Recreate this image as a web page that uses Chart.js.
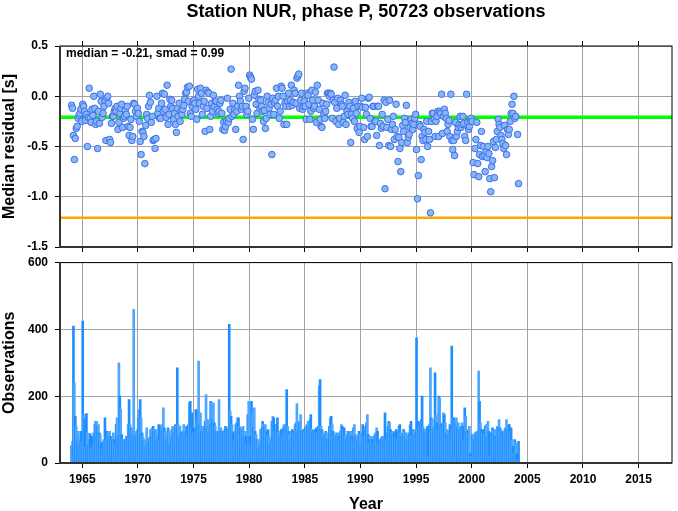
<!DOCTYPE html>
<html>
<head>
<meta charset="utf-8">
<script src="https://cdn.jsdelivr.net/npm/chart.js@4.4.0/dist/chart.umd.min.js"></script>
<style>
  html, body { margin: 0; padding: 0; background: #fff; }
  #wrap { position: relative; width: 678px; height: 511px; }
  canvas { position: absolute; left: 0; }
</style>
</head>
<body>
<div id="wrap">
  <canvas id="residualChart" width="678" height="255" style="top:0"></canvas>
  <canvas id="countChart" width="678" height="256" style="top:255px"></canvas>
</div>
<script>
// monthly values, one row per year, first row = 1964
const startYear = 1964;
const residuals = [
  -0.09,-0.12,-0.39,-0.63,-0.42,-0.32,-0.30,-0.22,-0.19,-0.17,-0.13,-0.25,
  -0.08,-0.10,-0.15,-0.24,-0.18,-0.50,-0.21, 0.08,-0.22,-0.26,-0.13,-0.19,
   0.00,-0.12,-0.28,-0.25,-0.52,-0.15,-0.27, 0.02,-0.05,-0.21,-0.17,-0.10,
  -0.04,-0.44,-0.02, 0.00,-0.07,-0.43,-0.46,-0.27,-0.20,-0.20,-0.15,-0.12,
  -0.15,-0.10,-0.33,-0.26,-0.17,-0.12,-0.08,-0.31,-0.22,-0.20,-0.14,-0.18,
  -0.10,-0.30,-0.39,-0.31,-0.23,-0.44,-0.40,-0.07,-0.08,-0.15,-0.20,-0.12,
  -0.17,-0.25,-0.45,-0.58,-0.35,-0.36,-0.40,-0.67,-0.29,-0.18,-0.22,-0.10,
   0.01,-0.06,-0.26,-0.20,-0.44,-0.43,-0.52,-0.42, 0.00,-0.17,-0.12,-0.22,
  -0.22,-0.07, 0.03,-0.15, 0.02,-0.13,-0.21, 0.11,-0.28,-0.18,-0.03,-0.10,
  -0.04,-0.12,-0.23,-0.17,-0.28,-0.36,-0.12,-0.20,-0.07,-0.25,-0.15,-0.18,
  -0.13,-0.09,-0.03, 0.03, 0.04, 0.09,-0.05, 0.10,-0.17,-0.20,-0.10,-0.06,
  -0.04,-0.07,-0.13,-0.23, 0.07, 0.00,-0.07, 0.08, 0.03,-0.18,-0.10,-0.05,
  -0.35, 0.06,-0.12, 0.04, 0.03,-0.33,-0.20,-0.07,-0.15, 0.01,-0.10,-0.05,
  -0.05,-0.13,-0.17,-0.15,-0.07,-0.04,-0.17,-0.33,-0.26,-0.34,-0.30,-0.25,
  -0.02,-0.26,-0.22,-0.13, 0.27,-0.20,-0.07,-0.18,-0.13,-0.33,-0.15,-0.10,
   0.11, 0.00,-0.05,-0.13,-0.10,-0.43, 0.05, 0.08,-0.10,-0.18,-0.15,-0.02,
   0.21, 0.19, 0.17,-0.23,-0.33, 0.01, 0.05,-0.08,-0.17, 0.06,-0.03,-0.12,
  -0.04,-0.10,-0.15,-0.25,-0.14,-0.32,-0.22, 0.00,-0.06,-0.12,-0.18,-0.08,
  -0.58,-0.02,-0.18,-0.07,-0.04, 0.08,-0.10, 0.00,-0.22,-0.15, 0.10, 0.08,
   0.00,-0.28,-0.07,-0.10,-0.28,-0.05, 0.03,-0.10,-0.04, 0.11,-0.09,-0.06,
   0.06, 0.03,-0.07, 0.18, 0.20, 0.22,-0.12,-0.04, 0.03,-0.13,-0.10,-0.05,
  -0.10,-0.23, 0.03, 0.01,-0.08,-0.23,-0.15, 0.06,-0.04,-0.12,-0.10, 0.04,
  -0.26, 0.11,-0.04,-0.13,-0.23,-0.30,-0.31,-0.07,-0.18,-0.22,-0.15,-0.08,
   0.03, 0.03, 0.00, 0.03, 0.02,-0.22,-0.04, 0.29,-0.06,-0.25,-0.12,-0.02,
  -0.28,-0.22,-0.04,-0.08,-0.10,-0.26,-0.20, 0.01,-0.28,-0.15,-0.18,-0.06,
  -0.10,-0.46,-0.18,-0.22,-0.12,-0.25,-0.05,-0.17,-0.32,-0.10,-0.36,-0.30,
  -0.10,-0.02,-0.11,-0.31,-0.43,-0.11,-0.18,-0.40,-0.02,-0.01,-0.22,-0.30,
  -0.30,-0.10,-0.10,-0.25,-0.25,-0.39,-0.10,-0.10,-0.49,-0.27,-0.32,-0.18,
  -0.30,-0.04,-0.92,-0.06,-0.31,-0.23,-0.49,-0.04,-0.50,-0.33,-0.28,-0.20,
  -0.43,-0.33,-0.08,-0.40,-0.65,-0.41,-0.52,-0.75,-0.46,-0.29,-0.35,-0.22,
  -0.26,-0.09,-0.46,-0.41,-0.38,-0.31,-0.23,-0.27,-0.33,-0.28,-0.22,-0.18,
  -0.53,-1.02,-0.79,-0.28,-0.30,-0.63,-0.40,-0.44,-0.33,-0.36,-0.43,-0.25,
  -0.50,-0.35,-0.43,-1.16,-0.25,-0.17,-0.17,-0.23,-0.40,-0.25,-0.20,-0.15,
  -0.40,-0.15,-0.17, 0.02,-0.37,-0.20,-0.13,-0.17,-0.22,-0.35,-0.28,-0.24,
  -0.40, 0.02,-0.44,-0.53,-0.44,-0.59,-0.26,-0.40,-0.35,-0.31,-0.28,-0.20,
  -0.31,-0.28,-0.20,-0.27,-0.40,-0.44, 0.02,-0.26,-0.33,-0.30,-0.25,-0.22,
  -0.25,-0.66,-0.78,-0.52,-0.43,-0.26,-0.67,-0.80,-0.58,-0.49,-0.35,-0.60,
  -0.50,-0.59,-0.75,-0.55,-0.61,-0.50,-0.57,-0.82,-0.95,-0.70,-0.64,-0.45,
  -0.81,-0.51,-0.43,-0.35,-0.23,-0.28,-0.31,-0.39,-0.43,-0.47,-0.52,-0.29,
  -0.49,-0.58,-0.33,-0.38,-0.33,-0.25,-0.17,-0.08,-0.17, 0.00,-0.22,-0.20,
   null,-0.38,-0.87
];
const counts = [
   52, 65,410,240,140,110, 70, 95, 60, 70, 95, 65,
  425,145,130, 50,148, 90, 55, 70, 88, 45, 80, 50,
   90,115,125,125,110,115, 90, 85, 60, 40, 65, 70,
  135, 70, 95, 90, 80, 95, 80, 70, 70, 90, 70, 55,
  115,135, 80,300,200,160, 85, 70, 70, 70, 70, 80,
   80,115,190,115,105,100, 85,460, 82, 95, 80,100,
  135,160,190,135, 90, 80, 65, 70, 50,105, 60, 70,
   75,100, 80,105,110,100, 95,100, 70, 80,115, 70,
  110,115, 95,165,105, 95, 70, 85,105, 95, 60, 80,
  100,110, 90,105,115,110,285,115, 80,110, 90, 85,
   95,115, 90, 95,110, 85,115,180,185,105,150, 90,
  105, 90,160,135,160,305,115,150, 95,110, 95,110,
  125,205,110,130, 95,115,185,180,130,180,120,110,
   95, 95, 95,190, 95,105, 95, 90, 95,100,110, 95,
  100,105,415,155,140,115, 90, 65, 95,115,120,135,
  135,110,105,105,100,110, 85, 95, 80, 55,145,185,
   80, 55,185,145,110,165, 95, 85, 70, 70, 45, 60,
  100,105,125,115,110,115, 95, 85,100, 80, 60, 70,
  125,140,135, 95,115,115,135, 90, 80, 95,100, 85,
  105,115,110,115,220,110, 95, 85, 65, 95,100, 90,
   95,115,120,178, 95,125,120,145, 95, 90,100, 95,
  105,110,115,125,105,130,145,100, 95, 90,100, 95,
  105, 90,110,230,250,110,100, 90, 80, 85, 95, 90,
   70, 65,110,135,140,115, 95, 80, 80, 90, 85, 90,
   80, 70, 95,115,110,100,105, 80, 70, 85, 95, 90,
   90, 95, 80, 70,105,115, 80, 85, 70, 80, 95, 85,
   60, 90,115, 80,105,110,120,145, 85, 60, 70, 80,
   70, 60, 80, 85, 90,105, 95, 60, 65, 70, 75, 80,
   70, 80,150, 70, 90,110,125,120,100, 90, 85, 95,
   90, 80,100, 70, 95,110,115, 90, 80, 85,100, 95,
   80, 90, 70, 80, 90,115,125, 80,100, 95, 85,100,
  375,100,125,110,120,130,200,110,100,100, 90,105,
  110, 20,115,285,135,130,100,110,270,145,120,100,
  200,195,115,110,120,150,145,120, 90,100, 85, 95,
  115, 90,350,135,135,125,120,135,110,120,100,105,
  110,120,110, 70,165,140, 95, 90,100,110, 30, 20,
   85, 85, 70, 90, 90, 95, 90,275,185,120,100, 90,
  100, 85,110,115, 80,125, 95, 20, 90, 85,105, 95,
   85,100, 80,110,105,130,105,100, 95, 85, 90,100,
  105,130,100,115,115, 95,105, 70, 50, 30, 70, 60,
   28, 10, 65
];
const yearTicks = [1965, 1970, 1975, 1980, 1985, 1990, 1995, 2000, 2005, 2010, 2015];
const residualTicks = [-1.5, -1.0, -0.5, 0.0, 0.5];
const countTicks = [0, 200, 400, 600];
const medianValue = -0.21;
const lowerValue = -1.21;
const xMin = 1963, xMax = 2018;

Chart.defaults.font.family = "'Liberation Sans', Arial, sans-serif";
Chart.defaults.color = '#000';

const monthX = i => startYear + (i + 0.5) / 12;
const residualPoints = residuals.map((v, i) => ({ x: monthX(i), y: v })).filter(p => p.y !== null);
const countPoints = counts.map((v, i) => ({ x: monthX(i), y: v }));

const gridColor = '#a3a3a3';
// small lineHeight keeps the y labels from pushing the plot area in
const yTickFont = { size: 12, weight: 'bold', lineHeight: 0.1 };
const xTickFont = { size: 12, weight: 'bold' };
const titleFont = { size: 16, weight: 'bold' };
const setYearTicks = s => { s.ticks = yearTicks.map(v => ({ value: v })); };

// frame around the plot area, thicker on the left and bottom
const framePlugin = {
    id: 'frame',
    afterDraw(chart) {
        const { ctx, chartArea: a } = chart;
        ctx.save();
        ctx.strokeStyle = '#000';
        ctx.lineWidth = 1;
        ctx.strokeRect(a.left, a.top, a.right - a.left, a.bottom - a.top);
        ctx.strokeStyle = '#333';
        ctx.lineWidth = 2;
        ctx.beginPath();
        ctx.moveTo(a.left, a.top);
        ctx.lineTo(a.left, a.bottom);
        ctx.lineTo(a.right, a.bottom);
        ctx.stroke();
        ctx.restore();
    }
};

const notePlugin = {
    id: 'note',
    afterDraw(chart) {
        const { ctx, chartArea: a } = chart;
        ctx.save();
        ctx.font = "bold 12px 'Liberation Sans', Arial, sans-serif";
        ctx.fillStyle = '#000';
        ctx.textBaseline = 'middle';
        ctx.fillText('median = ' + medianValue.toFixed(2) + ', smad = 0.99', a.left + 6, a.top + 8);
        ctx.restore();
    }
};

// Panel 1: median residuals
new Chart(document.getElementById('residualChart'), {
    type: 'scatter',
    data: {
        datasets: [
            {
                data: residualPoints,
                pointRadius: 3.3,
                pointBackgroundColor: '#88b5f8',
                pointBorderColor: '#3d6ee6',
                pointBorderWidth: 1
            },
            {
                type: 'line',
                data: [{ x: xMin, y: medianValue }, { x: xMax, y: medianValue }],
                borderColor: '#00ff00',
                borderWidth: 3.5,
                pointRadius: 0
            },
            {
                type: 'line',
                data: [{ x: xMin, y: lowerValue }, { x: xMax, y: lowerValue }],
                borderColor: '#ffa500',
                borderWidth: 2.5,
                pointRadius: 0
            }
        ]
    },
    options: {
        responsive: false,
        animation: false,
        devicePixelRatio: 1,
        layout: { padding: { left: 0, right: 6, top: 0, bottom: 0 } },
        plugins: {
            legend: { display: false },
            tooltip: { enabled: false },
            title: {
                display: true,
                fullSize: false,
                text: 'Station NUR, phase P, 50723 observations',
                font: { size: 18, weight: 'bold' },
                color: '#000',
                padding: { top: 1.5, bottom: 17.9 }
            }
        },
        scales: {
            x: {
                type: 'linear', min: xMin, max: xMax,
                afterBuildTicks: setYearTicks,
                ticks: { display: false },
                grid: { color: gridColor, tickColor: '#000', tickLength: 5 },
                border: { display: false },
                afterFit: s => { s.height = 8; }
            },
            xTop: {
                type: 'linear', position: 'top', min: xMin, max: xMax,
                afterBuildTicks: setYearTicks,
                ticks: { display: false },
                grid: { drawOnChartArea: false, tickColor: '#000', tickLength: 5 },
                border: { display: false },
                afterFit: s => { s.height = 5; }
            },
            y: {
                min: -1.5, max: 0.5,
                afterBuildTicks: s => { s.ticks = residualTicks.map(v => ({ value: v })); },
                ticks: { callback: v => v.toFixed(1), padding: 7, font: yTickFont, color: '#000' },
                grid: { color: gridColor, tickColor: '#000', tickLength: 5 },
                border: { display: false },
                title: { display: true, text: 'Median residual [s]', font: titleFont, color: '#000', padding: 0 },
                afterFit: s => { s.width = 60; }
            }
        }
    },
    plugins: [framePlugin, notePlugin]
});

// Panel 2: observations per month
new Chart(document.getElementById('countChart'), {
    type: 'bar',
    data: {
        datasets: [{
            data: countPoints,
            backgroundColor: countPoints.map((p, i) => i % 2 ? '#4ea7ff' : '#1e8fff'),
            borderWidth: 0,
            barThickness: 2
        }]
    },
    options: {
        responsive: false,
        animation: false,
        devicePixelRatio: 1,
        layout: { padding: { left: 0, right: 6, top: 7, bottom: 0 } },
        plugins: { legend: { display: false }, tooltip: { enabled: false } },
        scales: {
            x: {
                type: 'linear', min: xMin, max: xMax, offset: false,
                afterBuildTicks: setYearTicks,
                ticks: { padding: 4, font: xTickFont, color: '#000', maxRotation: 0, callback: v => String(v) },
                grid: { offset: false, color: gridColor, tickColor: '#000', tickLength: 5 },
                border: { display: false },
                title: { display: true, text: 'Year', font: { size: 16, weight: 'bold', lineHeight: 0.8 }, color: '#000', padding: 0 },
                afterFit: s => { s.height = 48; }
            },
            y: {
                min: 0, max: 600,
                afterBuildTicks: s => { s.ticks = countTicks.map(v => ({ value: v })); },
                ticks: { padding: 7, font: yTickFont, color: '#000' },
                grid: { color: gridColor, tickColor: '#000', tickLength: 5 },
                border: { display: false },
                title: { display: true, text: 'Observations', font: titleFont, color: '#000', padding: 0 },
                afterFit: s => { s.width = 60; }
            }
        }
    },
    plugins: [framePlugin]
});
</script>
</body>
</html>
